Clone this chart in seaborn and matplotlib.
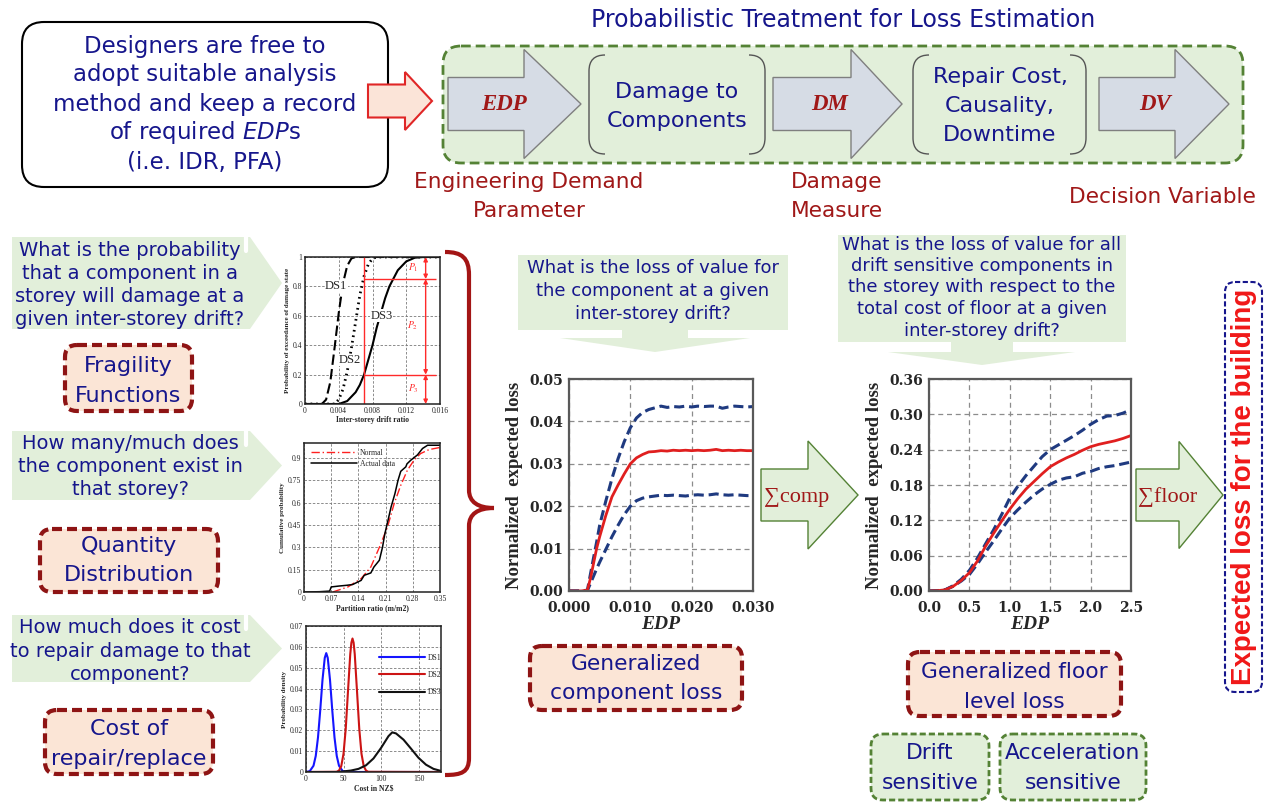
import numpy as np
import pandas as pd
import matplotlib
matplotlib.use("Agg")
import matplotlib.pyplot as plt
import seaborn as sns
from matplotlib.patches import FancyBboxPatch, Polygon, PathPatch
from matplotlib.path import Path

# ---------------- data ----------------
# fragility functions (probability of exceedance vs inter-storey drift ratio)
ds1_x = [0.0, 0.002, 0.0025, 0.003, 0.0035, 0.004, 0.0045, 0.005, 0.0055, 0.006, 0.016]
ds1_y = [0.0, 0.0, 0.03, 0.15, 0.38, 0.62, 0.82, 0.94, 0.99, 1.0, 1.0]
ds2_x = [0.0, 0.0035, 0.004, 0.0045, 0.005, 0.0055, 0.006, 0.0065, 0.007, 0.0075, 0.008, 0.0085, 0.016]
ds2_y = [0.0, 0.0, 0.03, 0.10, 0.22, 0.38, 0.56, 0.74, 0.87, 0.95, 0.99, 1.0, 1.0]
ds3_x = [0.0, 0.004, 0.005, 0.006, 0.0065, 0.007, 0.0075, 0.008, 0.0085, 0.009, 0.0095,
         0.010, 0.011, 0.012, 0.013, 0.014, 0.016]
ds3_y = [0.0, 0.0, 0.02, 0.08, 0.13, 0.20, 0.30, 0.40, 0.52, 0.62, 0.72,
         0.80, 0.91, 0.97, 0.995, 1.0, 1.0]
frag_drift = 0.007
frag_levels = [0.85, 0.20]
frag_arrow_x = 0.0143
frag_labels = [r"$P_1$", r"$P_2$", r"$P_3$"]

# quantity distribution
qty_actual_x = [0.0, 0.04, 0.066, 0.07, 0.09, 0.11, 0.125, 0.147, 0.155, 0.172, 0.18, 0.194,
                0.202, 0.208, 0.217, 0.224, 0.234, 0.242, 0.249, 0.262, 0.265, 0.275,
                0.292, 0.305, 0.318, 0.35]
qty_actual_y = [0.0, 0.002, 0.006, 0.034, 0.04, 0.045, 0.05, 0.078, 0.112, 0.128, 0.168, 0.213,
                0.30, 0.39, 0.49, 0.57, 0.66, 0.75, 0.81, 0.84, 0.86, 0.885,
                0.92, 0.963, 0.985, 0.985]
qty_normal_x = [0.074, 0.113, 0.147, 0.172, 0.194, 0.215, 0.232, 0.249, 0.266, 0.283, 0.30, 0.322, 0.35]
qty_normal_y = [0.0, 0.034, 0.09, 0.168, 0.30, 0.437, 0.593, 0.716, 0.817, 0.884, 0.929, 0.956, 0.97]

# repair cost densities
cost1_x = [0, 5, 10, 13, 16, 19, 22, 25, 27, 29, 32, 35, 38, 41, 44, 49, 55, 180]
cost1_y = [0, 0.0004, 0.003, 0.0077, 0.0166, 0.0297, 0.0442, 0.0547, 0.057, 0.0547, 0.0442,
           0.0297, 0.0166, 0.0077, 0.003, 0.0004, 0, 0]
cost2_x = [0, 41, 44, 47, 50, 53, 56, 59, 60.5, 62, 63.5, 65, 68, 71, 74, 77, 80, 83, 180]
cost2_y = [0, 0.0001, 0.0007, 0.0028, 0.0087, 0.0208, 0.0388, 0.0565, 0.062, 0.064, 0.062,
           0.0565, 0.0388, 0.0208, 0.0087, 0.0028, 0.0007, 0.0001, 0]
cost3_x = [0, 40, 50, 60, 70, 80, 90, 100, 110, 115, 120, 130, 140, 150, 160, 170, 180]
cost3_y = [0, 0, 0.0003, 0.0007, 0.0015, 0.0032, 0.0065, 0.0115, 0.0172, 0.019, 0.0185,
           0.0155, 0.0112, 0.0068, 0.0035, 0.0015, 0.0005]

# generalized component loss
comp_edp = [0.0, 0.001, 0.002, 0.003, 0.0035, 0.004, 0.0045, 0.005, 0.006, 0.007, 0.008, 0.009,
            0.010, 0.011, 0.012, 0.013, 0.014, 0.015, 0.016, 0.017, 0.018, 0.019, 0.020, 0.021,
            0.022, 0.023, 0.024, 0.025, 0.026, 0.027, 0.028, 0.029, 0.030]
comp_mean = [0.0, 0.0, 0.0, 0.0002, 0.003, 0.0065, 0.0100, 0.0128, 0.0178, 0.0222, 0.0250, 0.0276,
             0.0300, 0.0314, 0.0322, 0.0328, 0.0329, 0.0331, 0.0330, 0.0332, 0.0331, 0.0332, 0.0331,
             0.0332, 0.0331, 0.0332, 0.0334, 0.0331, 0.0332, 0.0331, 0.0332, 0.0331, 0.0331]
comp_upper = [0.0, 0.0, 0.0, 0.0002, 0.004, 0.0078, 0.0115, 0.0155, 0.0212, 0.0265, 0.0312, 0.0352,
              0.0385, 0.0408, 0.0421, 0.0428, 0.0432, 0.0436, 0.0433, 0.0435, 0.0434, 0.0436, 0.0434,
              0.0436, 0.0435, 0.0436, 0.0436, 0.0431, 0.0434, 0.0436, 0.0435, 0.0434, 0.0435]
comp_lower = [0.0, 0.0, 0.0, 0.0001, 0.0018, 0.0035, 0.0052, 0.0068, 0.0098, 0.0128, 0.0155, 0.0180,
              0.0200, 0.0213, 0.0219, 0.0222, 0.0224, 0.0226, 0.0225, 0.0226, 0.0225, 0.0224, 0.0226,
              0.0227, 0.0226, 0.0227, 0.0229, 0.0227, 0.0226, 0.0227, 0.0226, 0.0225, 0.0225]

# generalized floor level loss
floor_edp = [0.0, 0.1, 0.2, 0.3, 0.4, 0.5, 0.6, 0.7, 0.8, 0.9, 1.0, 1.1, 1.2, 1.3, 1.4, 1.5,
             1.6, 1.7, 1.8, 1.9, 2.0, 2.1, 2.2, 2.3, 2.4, 2.5]
floor_mean = [0.0, 0.0005, 0.002, 0.008, 0.018, 0.031, 0.051, 0.076, 0.098, 0.119, 0.139, 0.157,
              0.173, 0.186, 0.199, 0.211, 0.219, 0.226, 0.232, 0.239, 0.245, 0.249, 0.252, 0.255,
              0.259, 0.264]
floor_upper = [0.0, 0.0005, 0.002, 0.009, 0.020, 0.035, 0.056, 0.080, 0.104, 0.130, 0.158, 0.178,
               0.196, 0.212, 0.228, 0.240, 0.248, 0.256, 0.264, 0.273, 0.283, 0.291, 0.297, 0.298,
               0.302, 0.308]
floor_lower = [0.0, 0.0005, 0.002, 0.008, 0.017, 0.028, 0.046, 0.066, 0.085, 0.105, 0.124, 0.138,
               0.151, 0.163, 0.173, 0.181, 0.188, 0.192, 0.194, 0.200, 0.203, 0.208, 0.211, 0.213,
               0.216, 0.219]

# ---------------- style ----------------
sns.set_theme(style="white")
plt.rcParams['font.family'] = ['DejaVu Sans']
plt.rcParams['mathtext.fontset'] = 'dejavusans'

W, H = 1271, 805
fig = plt.figure(figsize=(W / 100, H / 100), dpi=100)
fig.patch.set_facecolor('white')

NAVY = '#16168c'
DRED = '#a01818'
PEACH = '#fbe5d6'
BOXRED = '#8e1414'
GFILL = '#e2efda'
GEDGE = '#548235'
AFILL = '#d6dce5'
SERIF = ['Liberation Serif', 'DejaVu Serif']

ax0 = fig.add_axes([0, 0, 1, 1])
ax0.set_xlim(0, W)
ax0.set_ylim(H, 0)
ax0.axis('off')


def rbox(x0, y0, x1, y1, fc, ec, lw, ls='-', r=14, z=1):
    p = FancyBboxPatch((x0, y0), x1 - x0, y1 - y0,
                       boxstyle=f"round,pad=0,rounding_size={r}",
                       fc=fc, ec=ec, lw=lw, ls=ls, zorder=z)
    ax0.add_patch(p)


def lines(x, ys, strs, size, color=NAVY, **kw):
    for y, s in zip(ys, strs):
        ax0.text(x, y, s, fontsize=size, color=color, ha='center', va='center', **kw)


def block_arrow(x0, xh, x1, yc, bh, hh, fc, ec, lw):
    pts = [(x0, yc - bh / 2), (xh, yc - bh / 2), (xh, yc - hh / 2), (x1, yc),
           (xh, yc + hh / 2), (xh, yc + bh / 2), (x0, yc + bh / 2)]
    ax0.add_patch(Polygon(pts, closed=True, fc=fc, ec=ec, lw=lw, joinstyle='miter', zorder=2))


def bracket(x0, y0, x1, y1, r=16):
    for xa, s in ((x0, 1), (x1, -1)):
        verts = [(xa + s * r, y0), (xa, y0), (xa, y0 + r), (xa, y1 - r), (xa, y1), (xa + s * r, y1)]
        codes = [Path.MOVETO, Path.CURVE3, Path.CURVE3, Path.LINETO, Path.CURVE3, Path.CURVE3]
        ax0.add_patch(PathPatch(Path(verts, codes), fc='none', ec='#555555', lw=1.0, zorder=2))


# ---------------- top left box ----------------
rbox(22, 22, 388, 187, 'white', 'black', 1.5, r=22)
lines(205, [46, 75, 104, 133, 162],
      ["Designers are free to", "adopt suitable analysis", "method and keep a record",
       r"of required $EDP$s", "(i.e. IDR, PFA)"], 16.5)
block_arrow(368, 405, 432, 101, 33, 58, '#fbe4d8', '#e02626', 1.5)

# ---------------- top flow ----------------
ax0.text(843, 20, "Probabilistic Treatment for Loss Estimation", fontsize=17, color=NAVY,
         ha='center', va='center')
rbox(443, 46, 1243, 163, GFILL, GEDGE, 2, ls=(0, (3.5, 1.8)), r=18)
for x0, xh, x1, lab in ((448, 524, 581, "EDP"), (773, 851, 902, "DM"), (1099, 1175, 1229, "DV")):
    block_arrow(x0, xh, x1, 104, 53, 109, AFILL, '#7f7f7f', 1.0)
    ax0.text((x0 + xh) / 2 + 18, 105, lab, fontsize=16.5, color=DRED, family=SERIF,
             weight='bold', style='italic', ha='center', va='center', zorder=3)
bracket(589, 55, 765, 154)
bracket(913, 55, 1086, 154)
lines(677, [92, 121], ["Damage to", "Components"], 16)
lines(1000, [77, 106, 135], ["Repair Cost,", "Causality,", "Downtime"], 16)
lines(529, [182, 211], ["Engineering Demand", "Parameter"], 15.6, DRED)
lines(837, [182, 211], ["Damage", "Measure"], 15.6, DRED)
lines(1162, [197], ["Decision Variable"], 15.6, DRED)

# ---------------- left column ----------------
def chevron(y0, y1):
    pts = [(12, y0), (250, y0), (282, (y0 + y1) / 2), (250, y1), (12, y1)]
    ax0.add_patch(Polygon(pts, closed=True, fc=GFILL, ec='none', zorder=1))
    ax0.plot([246, 246], [y0, y0 + 14], color='white', lw=3, zorder=1.5)


chevron(237, 329)
lines(130, [250, 273, 296, 319],
      ["What is the probability", "that a component in a", "storey will damage at a",
       "given inter-storey drift?"], 14)
chevron(431, 500)
lines(130, [443, 466, 489], ["How many/much does", "the component exist in", "that storey?"], 14)
chevron(615, 682)
lines(130, [627, 651, 674], ["How much does it cost", "to repair damage to that", "component?"], 14)

RLS = (0, (2.4, 1.2))
rbox(65, 345, 192, 411, PEACH, BOXRED, 3, ls=RLS, r=12)
lines(128, [366, 396], ["Fragility", "Functions"], 16)
rbox(40, 529, 218, 592, PEACH, BOXRED, 3, ls=RLS, r=12)
lines(129, [546, 575], ["Quantity", "Distribution"], 16)
rbox(45, 710, 213, 774, PEACH, BOXRED, 3, ls=RLS, r=12)
lines(129, [729, 759], ["Cost of", "repair/replace"], 16)

# curly brace
bverts = [(445, 252), (462, 252), (469, 258), (469, 275), (469, 490), (469, 502), (478, 508),
          (494, 508), (478, 508), (469, 514), (469, 526), (469, 758), (469, 772), (462, 775),
          (445, 775)]
bcodes = [Path.MOVETO, Path.CURVE4, Path.CURVE4, Path.CURVE4, Path.LINETO, Path.CURVE4,
          Path.CURVE4, Path.CURVE4, Path.CURVE4, Path.CURVE4, Path.CURVE4, Path.LINETO,
          Path.CURVE4, Path.CURVE4, Path.CURVE4]
ax0.add_patch(PathPatch(Path(bverts, bcodes), fc='none', ec='#a31515', lw=3, zorder=2))

# ---------------- callouts ----------------
ax0.add_patch(Polygon([(518, 255), (788, 255), (788, 330), (688, 330), (688, 338), (750, 338),
                       (655, 352), (560, 338), (622, 338), (622, 330), (518, 330)],
                      closed=True, fc=GFILL, ec='none', zorder=1))
lines(653, [268, 291, 314], ["What is the loss of value for", "the component at a given",
                             "inter-storey drift?"], 13)
ax0.add_patch(Polygon([(838, 235), (1126, 235), (1126, 342), (1013, 342), (1013, 352), (1075, 352),
                       (982, 365), (888, 352), (951, 352), (951, 342), (838, 342)],
                      closed=True, fc=GFILL, ec='none', zorder=1))
lines(982, [245, 266, 287, 309, 331],
      ["What is the loss of value for all", "drift sensitive components in",
       "the storey with respect to the", "total cost of floor at a given", "inter-storey drift?"], 13)

# sum arrows
block_arrow(761, 808, 858, 495, 52, 108, GFILL, GEDGE, 1.0)
ax0.text(797, 497, "∑comp", fontsize=16, color=DRED, family=SERIF, ha='center', va='center', zorder=3)
block_arrow(1136, 1179, 1223, 495, 52, 107, GFILL, GEDGE, 1.0)
ax0.text(1168, 497, "∑floor", fontsize=16, color=DRED, family=SERIF, ha='center', va='center', zorder=3)

# bottom boxes
rbox(530, 646, 742, 710, PEACH, BOXRED, 3, ls=RLS, r=12)
lines(636, [664, 693], ["Generalized", "component loss"], 15.7)
rbox(908, 652, 1121, 716, PEACH, BOXRED, 3, ls=RLS, r=12)
lines(1014, [672, 702], ["Generalized floor", "level loss"], 15.7)
GLS = (0, (2.2, 1.1))
rbox(871, 734, 989, 800, GFILL, GEDGE, 2, ls=GLS, r=12)
lines(930, [753, 783], ["Drift", "sensitive"], 15.7)
rbox(1000, 734, 1146, 800, GFILL, GEDGE, 2, ls=GLS, r=12)
lines(1073, [753, 783], ["Acceleration", "sensitive"], 15.7)

# expected loss vertical box
rbox(1225, 282, 1262, 692, 'white', NAVY, 1.5, ls=(0, (2.5, 1.2)), r=10)
ax0.text(1244, 487, "Expected loss for the building", rotation=90, fontsize=20,
         family=['Liberation Sans', 'DejaVu Sans'], weight='bold', color='#f01818',
         ha='center', va='center')


# ---------------- helper for plotting ----------------
def px_axes(x0, y0, x1, y1):
    return fig.add_axes([x0 / W, 1 - y1 / H, (x1 - x0) / W, (y1 - y0) / H])


def sline(ax, x, y, color, lw, ls=None, dashes=None, label=None):
    sns.lineplot(x=x, y=y, ax=ax, color=color, linewidth=lw, sort=False,
                 estimator=None, errorbar=None, legend=False)
    ln = ax.lines[-1]
    if dashes is not None:
        ln.set_dashes(dashes)
    elif ls is not None:
        ln.set_linestyle(ls)
    if label:
        ln.set_label(label)
    return ln


def small_style(ax, xlim, ylim, xt, xtl, yt, ytl, xlabel, ylabel):
    ax.set_xlim(*xlim)
    ax.set_ylim(*ylim)
    ax.set_xticks(xt)
    ax.set_xticklabels(xtl, fontsize=5.5, family=SERIF)
    ax.set_yticks(yt)
    ax.set_yticklabels(ytl, fontsize=5.5, family=SERIF)
    ax.tick_params(length=0, pad=2)
    ax.grid(True, ls=(0, (3, 2)), color='#7a7a7a', lw=0.6)
    for s in ax.spines.values():
        s.set_color('#222222')
        s.set_linewidth(1.1)
    ax.set_xlabel(xlabel, fontsize=5.5, family=SERIF, weight='bold', labelpad=1)
    ax.set_ylabel(ylabel, fontsize=5.0, family=SERIF, weight='bold', labelpad=2)
    ax.set_facecolor('white')


# ---------------- fragility chart ----------------
axf = px_axes(305, 257, 440, 404)
sline(axf, ds1_x, ds1_y, 'black', 1.5, dashes=[5, 2])
sline(axf, ds2_x, ds2_y, 'black', 2.0, dashes=[0.6, 1.4])
sline(axf, ds3_x, ds3_y, 'black', 1.5)
axf.axvline(frag_drift, color='#ff2a2a', lw=1.0)
for lv in frag_levels:
    axf.hlines(lv, frag_drift, 0.0155, color='#ff2a2a', lw=1.0)
bounds = [1.0] + frag_levels + [0.0]
for i in range(3):
    axf.annotate('', xy=(frag_arrow_x, bounds[i]), xytext=(frag_arrow_x, bounds[i + 1]),
                 arrowprops=dict(arrowstyle='<|-|>', color='#ff2a2a', lw=1.0, mutation_scale=6,
                                 shrinkA=0, shrinkB=0))
    axf.text(0.0128, (bounds[i] + bounds[i + 1]) / 2 + 0.005, frag_labels[i], color='#ff2a2a',
             fontsize=7, ha='center', va='center', math_fontfamily='stix')
axf.text(0.0037, 0.80, "DS1", fontsize=9, family=SERIF, ha='center', va='center',
         bbox=dict(fc='white', ec='none', pad=0.3))
axf.text(0.0053, 0.30, "DS2", fontsize=9, family=SERIF, ha='center', va='center',
         bbox=dict(fc='white', ec='none', pad=0.3))
axf.text(0.0091, 0.60, "DS3", fontsize=9, family=SERIF, ha='center', va='center',
         bbox=dict(fc='white', ec='none', pad=0.3))
small_style(axf, (0, 0.016), (0, 1), [0, 0.004, 0.008, 0.012, 0.016],
            ['0', '0.004', '0.008', '0.012', '0.016'],
            [0, 0.2, 0.4, 0.6, 0.8, 1.0], ['0', '0.2', '0.4', '0.6', '0.8', '1'],
            "Inter-storey drift ratio", "Probability of exceedance of damage state")

# ---------------- quantity chart ----------------
axq = px_axes(304, 443, 440, 592)
hn = sline(axq, qty_normal_x, qty_normal_y, '#ff2020', 1.0, dashes=[6, 2, 1, 2], label='Normal')
ha = sline(axq, qty_actual_x, qty_actual_y, 'black', 1.1, label='Actual data')
small_style(axq, (0, 0.35), (0, 1.0), [0, 0.07, 0.14, 0.21, 0.28, 0.35],
            ['0', '0.07', '0.14', '0.21', '0.28', '0.35'],
            [0, 0.15, 0.3, 0.45, 0.6, 0.75, 0.9], ['0', '0.15', '0.3', '0.45', '0.6', '0.75', '0.9'],
            "Partition ratio (m/m2)", "Cumulative probability")
axq.legend(handles=[hn, ha], loc='upper left', bbox_to_anchor=(0.03, 0.98), frameon=False,
           prop={'family': SERIF, 'size': 5.5}, handlelength=6.0, labelspacing=0.4,
           borderaxespad=0, handletextpad=0.4)

# ---------------- cost chart ----------------
axc = px_axes(306, 626, 441, 772)
h1 = sline(axc, cost1_x, cost1_y, '#1515ff', 1.5, label='DS1')
h2 = sline(axc, cost2_x, cost2_y, '#cc1414', 1.5, label='DS2')
h3 = sline(axc, cost3_x, cost3_y, '#111111', 1.5, label='DS3')
small_style(axc, (0, 180), (0, 0.07), [0, 50, 100, 150], ['0', '50', '100', '150'],
            [0, 0.01, 0.02, 0.03, 0.04, 0.05, 0.06, 0.07],
            ['0', '0.01', '0.02', '0.03', '0.04', '0.05', '0.06', '0.07'],
            "Cost in NZ\\$", "Probability density")
axc.legend(handles=[h1, h2, h3], loc='upper left', bbox_to_anchor=(0.52, 0.83), frameon=False,
           prop={'family': SERIF, 'size': 5.5}, handlelength=6.0, labelspacing=1.2,
           borderaxespad=0, handletextpad=0.4)


# ---------------- main charts ----------------
def main_style(ax, xlim, ylim, xt, xtl, yt, ytl):
    ax.set_xlim(*xlim)
    ax.set_ylim(*ylim)
    ax.set_xticks(xt)
    ax.set_xticklabels(xtl, fontsize=10, family='DejaVu Serif', weight='bold')
    ax.set_yticks(yt)
    ax.set_yticklabels(ytl, fontsize=10, family='DejaVu Serif', weight='bold')
    ax.tick_params(axis='x', length=0, pad=7)
    ax.tick_params(axis='y', length=0, pad=4)
    ax.grid(True, ls=(0, (4, 3)), color='#8c8c8c', lw=0.9)
    for s in ax.spines.values():
        s.set_color('#595959')
        s.set_linewidth(1.6)
    ax.set_ylabel("Normalized  expected loss", fontsize=13.5, family=SERIF, weight='bold',
                  labelpad=5)
    ax.set_xlabel("EDP", fontsize=14, family=SERIF, weight='bold', style='italic', labelpad=1)
    ax.set_facecolor('white')


BLUE = '#1f3a80'
REDL = '#e01f1f'
ax1 = px_axes(569, 379, 753, 591)
sline(ax1, comp_edp, comp_upper, BLUE, 2.2, dashes=[3.3, 1.6])
sline(ax1, comp_edp, comp_lower, BLUE, 2.2, dashes=[3.3, 1.6])
sline(ax1, comp_edp, comp_mean, REDL, 2.0)
main_style(ax1, (0, 0.03), (0, 0.05), [0, 0.01, 0.02, 0.03], ['0.000', '0.010', '0.020', '0.030'],
           [0, 0.01, 0.02, 0.03, 0.04, 0.05], ['0.00', '0.01', '0.02', '0.03', '0.04', '0.05'])

ax2 = px_axes(929, 379, 1131, 591)
sline(ax2, floor_edp, floor_upper, BLUE, 2.2, dashes=[3.3, 1.6])
sline(ax2, floor_edp, floor_lower, BLUE, 2.2, dashes=[3.3, 1.6])
sline(ax2, floor_edp, floor_mean, REDL, 2.0)
main_style(ax2, (0, 2.5), (0, 0.36), [0, 0.5, 1.0, 1.5, 2.0, 2.5],
           ['0.0', '0.5', '1.0', '1.5', '2.0', '2.5'],
           [0, 0.06, 0.12, 0.18, 0.24, 0.30, 0.36],
           ['0.00', '0.06', '0.12', '0.18', '0.24', '0.30', '0.36'])

fig.savefig("out.png", dpi=100, facecolor='white')
